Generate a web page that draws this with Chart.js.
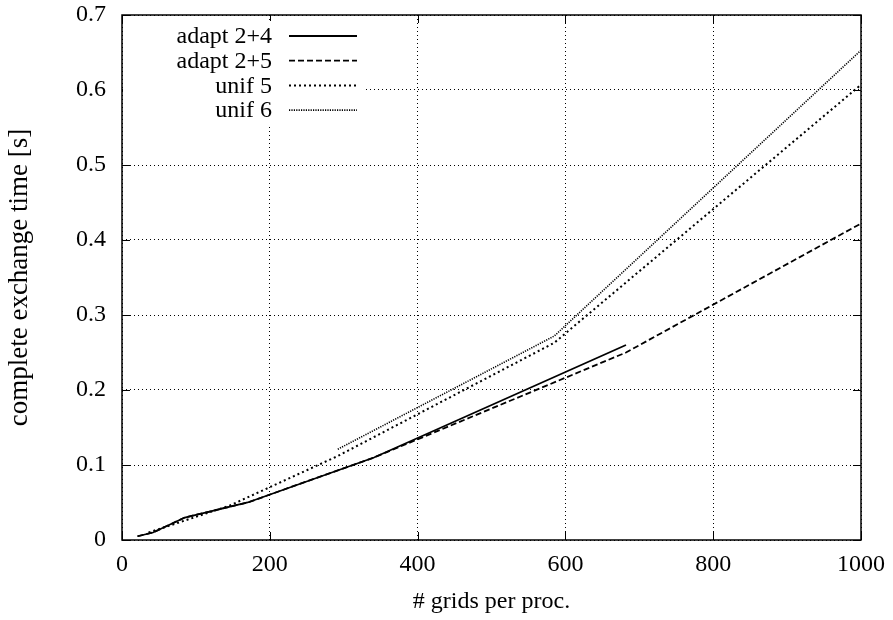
<!DOCTYPE html>
<html>
<head>
<meta charset="utf-8">
<script src="https://cdn.jsdelivr.net/npm/chart.js@4"></script>
<style>
  html, body { margin: 0; padding: 0; background: #fff; }
  #wrap { width: 893px; height: 620px; }
</style>
</head>
<body>
<div id="wrap"><canvas id="chart" width="893" height="620"></canvas></div>
<script>
// valeurs
const seriesNames = ['adapt 2+4', 'adapt 2+5', 'unif 5', 'unif 6'];

const adapt24X = [21, 42, 85, 170, 341, 682];
const adapt24Y = [0.005, 0.01, 0.03, 0.05, 0.11, 0.26];

const adapt25X = [21, 42, 85, 170, 341, 682, 1000];
const adapt25Y = [0.005, 0.01, 0.03, 0.05, 0.11, 0.25, 0.422];

const unif5X = [36, 73, 146, 292, 585, 1000];
const unif5Y = [0.01, 0.022, 0.046, 0.112, 0.263, 0.607];

const unif6X = [292, 585, 1000];
const unif6Y = [0.121, 0.272, 0.653];

const xTicks = [0, 200, 400, 600, 800, 1000];
const yTicks = [0, 0.1, 0.2, 0.3, 0.4, 0.5, 0.6, 0.7];

const FONT = 'Liberation Serif';

function pts(xs, ys) {
    return xs.map((x, i) => ({ x: x, y: ys[i] }));
}

const dashes = [[], [6, 3], [2, 3], [1.2, 1.2]];
const widths = [1.8, 1.8, 2, 1.6];

// cadre, graduations internes et légende façon gnuplot
const framePlugin = {
    id: 'frame',
    afterDatasetsDraw(chart) {
        const ctx = chart.ctx;
        const a = chart.chartArea;
        const xs = chart.scales.x, ys = chart.scales.y;
        const tl = 8;
        ctx.save();
        ctx.strokeStyle = '#000';
        ctx.lineWidth = 1;
        ctx.setLineDash([]);
        ctx.beginPath();
        xTicks.forEach(v => {
            const px = Math.round(xs.getPixelForValue(v)) + 0.5;
            ctx.moveTo(px, a.bottom); ctx.lineTo(px, a.bottom - tl);
            ctx.moveTo(px, a.top); ctx.lineTo(px, a.top + tl);
        });
        yTicks.forEach(v => {
            const py = Math.round(ys.getPixelForValue(v)) + 0.5;
            ctx.moveTo(a.left, py); ctx.lineTo(a.left + tl, py);
            ctx.moveTo(a.right, py); ctx.lineTo(a.right - tl, py);
        });
        ctx.stroke();

        // légende
        const bx = a.left + 1, by = a.top + 6, bw = 240, bh = 103;
        ctx.fillStyle = '#fff';
        ctx.fillRect(bx, by, bw, bh);
        ctx.font = '24px "' + FONT + '"';
        ctx.fillStyle = '#000';
        ctx.textAlign = 'right';
        ctx.textBaseline = 'middle';
        seriesNames.forEach((name, i) => {
            const y = a.top + 21 + i * 24.7;
            ctx.fillText(name, a.left + 150, y + 1);
            ctx.beginPath();
            ctx.lineWidth = widths[i];
            ctx.setLineDash(dashes[i]);
            ctx.moveTo(a.left + 167, y);
            ctx.lineTo(a.left + 235, y);
            ctx.stroke();
        });

        // cadre
        ctx.setLineDash([]);
        ctx.lineWidth = 1.5;
        ctx.strokeRect(a.left, a.top, a.right - a.left, a.bottom - a.top);
        ctx.restore();
    }
};

new Chart(document.getElementById('chart'), {
    type: 'line',
    data: {
        datasets: [
            { label: seriesNames[0], data: pts(adapt24X, adapt24Y) },
            { label: seriesNames[1], data: pts(adapt25X, adapt25Y) },
            { label: seriesNames[2], data: pts(unif5X, unif5Y) },
            { label: seriesNames[3], data: pts(unif6X, unif6Y) }
        ].map((d, i) => Object.assign(d, {
            borderColor: '#000',
            backgroundColor: 'transparent',
            borderWidth: widths[i],
            borderDash: dashes[i],
            pointRadius: 0,
            tension: 0,
            fill: false
        }))
    },
    options: {
        responsive: false,
        animation: false,
        layout: { padding: { left: 0, right: 32, top: 15, bottom: 0 } },
        plugins: { legend: { display: false }, tooltip: { enabled: false } },
        scales: {
            x: {
                type: 'linear',
                min: 0, max: 1000,
                afterBuildTicks: s => { s.ticks = xTicks.map(v => ({ value: v })); },
                afterFit: s => { s.height = 80; s.paddingLeft = 0; s.paddingRight = 0; },
                grid: { color: '#000', lineWidth: 1, drawTicks: false },
                border: { display: false, dash: [1, 3] },
                ticks: {
                    color: '#000', padding: 10, maxRotation: 0, font: { family: FONT, size: 24 },
                    callback: v => String(v)
                },
                title: { display: true, text: '# grids per proc.', color: '#000', padding: { top: 0, bottom: 4 }, font: { family: FONT, size: 24 } }
            },
            y: {
                min: 0, max: 0.7,
                afterBuildTicks: s => { s.ticks = yTicks.map(v => ({ value: v })); },
                afterFit: s => { s.width = 122; s.paddingTop = 0; s.paddingBottom = 0; },
                grid: { color: '#000', lineWidth: 1, drawTicks: false },
                border: { display: false, dash: [1, 3] },
                ticks: {
                    color: '#000', padding: 16, font: { family: FONT, size: 24 },
                    callback: v => v === 0 ? '0' : v.toFixed(1)
                },
                title: { display: true, text: 'complete exchange time [s]', color: '#000', padding: { top: 4, bottom: 0 }, font: { family: FONT, size: 27 } }
            }
        }
    },
    plugins: [framePlugin]
});
</script>
</body>
</html>
